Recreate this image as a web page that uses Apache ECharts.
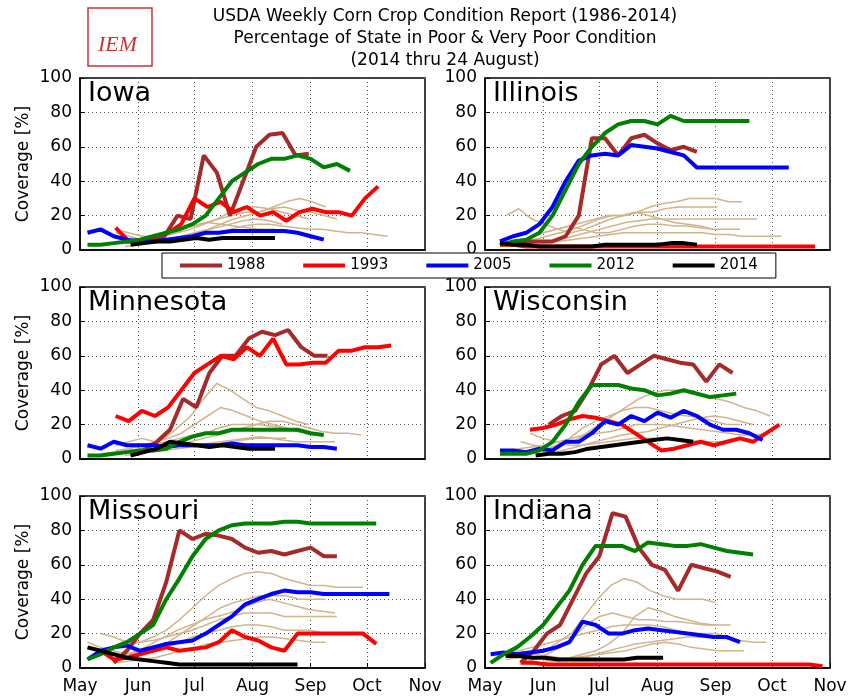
<!DOCTYPE html>
<html><head><meta charset="utf-8">
<script src="https://cdn.jsdelivr.net/npm/echarts@6/dist/echarts.min.js"></script>
<style>html,body{margin:0;padding:0;background:#fff}#c{width:855px;height:700px}</style>
</head><body><div id="c"></div>
<script>
// Highlight years
const years = ['1988','1993','2005','2012','2014'];
const colors = ['#a52a2a','#ff0000','#0000ff','#008000','#000000'];
const panels = ['Iowa','Illinois','Minnesota','Wisconsin','Missouri','Indiana'];
// start date (MM-DD) of each highlighted year's weekly values, per panel
const iowa_starts = ['05-25','05-20','05-05','05-05','05-28'];
const iowa_1988 = [5,5,6,8,20,18,55,45,20,40,60,67,68,55,56];
const iowa_1993 = [13,5,6,8,10,15,30,25,28,22,25,20,22,17,22,24,22,22,20,30,37];
const iowa_2005 = [10,12,8,6,5,5,6,7,8,10,10,11,11,11,11,11,10,8,6];
const iowa_2012 = [3,3,4,5,6,8,10,12,15,20,30,40,45,50,53,53,55,53,48,50,46];
const iowa_2014 = [3,4,5,5,6,7,6,7,7,7,7,7];

const illinois_starts = ['05-09','05-09','05-09','05-09','05-09'];
const illinois_1988 = [3,4,5,5,5,8,20,65,65,55,65,67,62,58,60,57];
const illinois_1993 = [3,3,2,2,2,2,2,2,2,2,2,2,2,2,2,2,2,2,2,2,2,2,2,2,2];
const illinois_2005 = [5,8,10,15,25,40,52,55,56,55,61,60,59,57,55,48,48,48,48,48,48,48,48];
const illinois_2012 = [3,5,6,10,20,35,50,60,68,73,75,75,73,78,75,75,75,75,75,75];
const illinois_2014 = [4,3,3,2,2,2,2,2,3,3,3,3,3,4,4,3];

const minnesota_starts = ['05-28','05-20','05-05','05-05','05-28'];
const minnesota_1988 = [3,5,10,17,35,30,50,60,60,70,74,72,75,65,60,60];
const minnesota_1993 = [25,22,28,25,30,40,50,55,60,58,65,60,70,55,55,56,56,63,63,65,65,66];
const minnesota_2005 = [8,6,10,8,8,8,7,8,8,8,8,9,8,8,8,8,8,7,7,6];
const minnesota_2012 = [2,2,3,4,5,5,6,10,13,15,15,17,17,17,17,17,17,15,14];
const minnesota_2014 = [2,4,6,10,9,8,7,8,7,6,6,6];

const wisconsin_starts = ['06-04','05-25','05-09','05-09','05-28'];
const wisconsin_1988 = [20,25,28,40,55,60,50,55,60,58,56,55,45,55,50];
const wisconsin_1993 = [17,18,20,23,25,24,22,20,15,10,5,6,8,10,8,10,12,10,15,20];
const wisconsin_2005 = [5,5,4,6,5,10,10,15,22,20,25,22,27,24,28,25,20,17,17,15,11];
const wisconsin_2012 = [3,3,3,5,10,20,33,43,43,43,41,40,37,38,40,38,36,37,38];
const wisconsin_2014 = [2,3,3,4,6,7,8,9,10,11,12,11,10];

const missouri_starts = ['05-19','05-12','05-05','05-05','05-05'];
const missouri_1988 = [3,10,20,28,50,80,75,78,77,75,70,67,68,66,68,70,65,65];
const missouri_1993 = [10,5,6,8,10,12,10,11,12,15,22,18,16,12,10,20,20,20,20,20,20,14];
const missouri_2005 = [5,10,12,13,10,12,14,15,16,20,25,30,37,40,43,45,44,44,43,43,43,43,43,43];
const missouri_2012 = [5,8,12,15,20,25,40,52,65,75,80,83,84,84,84,85,85,84,84,84,84,84,84];
const missouri_2014 = [12,10,8,6,5,4,3,2,2,2,2,2,2,2,2,2,2];

const indiana_starts = ['05-20','05-20','05-04','05-04','05-12'];
const indiana_1988 = [3,10,20,25,40,55,65,90,88,70,60,57,45,60,58,56,53];
const indiana_1993 = [3,3,2,2,2,2,2,2,2,2,2,2,2,2,2,2,2,2,2,2,2,2,2,1];
const indiana_2005 = [8,9,8,9,10,12,15,27,25,20,20,22,23,22,21,20,19,18,18,15];
const indiana_2012 = [3,8,12,18,25,35,45,60,71,71,71,68,73,72,71,71,72,70,68,67,66];
const indiana_2014 = [7,7,6,6,5,5,5,5,5,5,6,6,6];

// other years (background): first item is start date
const iowa_other = [
 ['05-20',10,8,6,5,6,8,10,12,15,18,20,22,25,28,30,28,25],
 ['05-25',5,5,6,8,10,12,15,18,22,25,25,24,22,20,18],
 ['05-12',3,4,5,6,8,10,12,14,16,18,20,22,22,24,25,23,22,20,18],
 ['05-20',12,10,8,8,10,12,14,16,15,14,13,12,12,11,10],
 ['05-25',2,3,4,5,7,9,11,13,15,17,18,17,15],
 ['06-01',4,5,6,7,8,9,10,12,14,15,15,14,13,12,12,11,10,10,9,8]];
const illinois_other = [
 ['05-12',20,24,18,15,12,10,12,15,18,20,22,25,27,28,30,30,30,28,28],
 ['05-20',5,6,8,10,12,15,18,20,20,22,22,24,25,25,25,25],
 ['05-20',3,4,5,6,8,10,12,14,16,17,18,18,18,18,18,18,18,18,18],
 ['05-25',8,10,12,14,12,10,10,12,14,15,15,14,14,13,12],
 ['05-12',2,3,3,4,5,6,7,8,9,10,10,10,10,10,10,10,9,9,8,8,8,8],
 ['06-01',10,12,14,16,18,20,20,22,20,18,16,15,14,12,12,12]];
const minnesota_other = [
 ['05-25',3,5,8,12,18,25,35,44,40,35,30,28,25,22,20],
 ['05-20',5,6,8,10,12,15,20,25,30,28,25,22,20,18,16,15],
 ['05-12',3,4,5,6,8,10,12,14,15,18,20,20,20,19,18,16,15,14],
 ['06-01',5,6,7,8,10,12,14,16,18,20,22,22,20,18,16,15,15,14],
 ['05-25',2,3,4,5,6,7,8,9,10,11,12,12,11,10,10,10,10],
 ['05-20',8,10,12,10,9,8,8,9,10,11,12,13,12,12]];
const wisconsin_other = [
 ['05-20',10,8,6,8,10,15,20,25,30,35,38,40,40,38,36,35,33,30,28,25],
 ['05-25',3,5,8,12,18,22,25,28,30,30,28,26,25,24,22,20,20],
 ['05-12',5,6,7,8,10,12,14,15,16,18,20,20,20,19,18,17,16,15,14,14,15],
 ['06-01',2,4,6,8,10,12,14,15,16,18,20,22,24,25,24,22,20],
 ['05-25',15,12,10,8,8,9,10,11,12,12,12,12,11,10,10,10]];
const missouri_other = [
 ['05-12',20,18,15,15,18,22,28,35,42,48,52,55,56,55,52,50,48,48,47,47,47],
 ['05-20',5,8,10,12,15,20,25,30,35,38,40,42,42,42,40,40,40],
 ['05-12',10,12,14,15,16,18,20,22,25,28,30,32,32,32,30,30,30,30,30],
 ['05-05',15,12,10,8,8,10,12,15,18,20,22,24,25,25,24,22,22,22,20,20,20],
 ['05-20',3,4,5,6,8,10,12,14,15,16,17,18,18,17,16,15,15],
 ['05-25',8,10,14,18,22,25,28,30,32,35,38,40,38,36,34,33,32]];
const indiana_other = [
 ['05-12',5,6,8,10,15,20,30,40,48,52,50,45,42,40,40,40,38],
 ['05-20',3,5,8,12,18,25,30,32,30,28,28,27,27,26,25,25,25],
 ['05-12',8,10,12,14,16,18,20,22,24,25,25,25,24,22,20,20,20,18],
 ['05-25',2,3,4,5,6,8,10,12,14,15,16,17,18,18,18,17,16,15,15],
 ['05-20',10,8,7,6,6,7,8,9,10,12,14,15,14,12,11,10,10,10],
 ['06-01',4,5,6,8,10,14,20,30,35,33,30,28,26,25]];

const panelData = [
 [iowa_starts,[iowa_1988,iowa_1993,iowa_2005,iowa_2012,iowa_2014],iowa_other],
 [illinois_starts,[illinois_1988,illinois_1993,illinois_2005,illinois_2012,illinois_2014],illinois_other],
 [minnesota_starts,[minnesota_1988,minnesota_1993,minnesota_2005,minnesota_2012,minnesota_2014],minnesota_other],
 [wisconsin_starts,[wisconsin_1988,wisconsin_1993,wisconsin_2005,wisconsin_2012,wisconsin_2014],wisconsin_other],
 [missouri_starts,[missouri_1988,missouri_1993,missouri_2005,missouri_2012,missouri_2014],missouri_other],
 [indiana_starts,[indiana_1988,indiana_1993,indiana_2005,indiana_2012,indiana_2014],indiana_other]];

function weekly(start, vals){
  const [m,d] = start.split('-').map(Number);
  return vals.map((v,i)=>[new Date(2014,m-1,d+7*i).getTime(), v]);
}
const FONT = 'DejaVu Sans';
const lefts=[80,485], tops=[78,287,496];
const grids=[],xAxes=[],yAxes=[],series=[],graphics=[];
panels.forEach((name,p)=>{
  const col=p%2,row=Math.floor(p/2);
  grids.push({left:lefts[col],top:tops[row],width:345,height:172,show:true,borderColor:'#000',borderWidth:1.5,backgroundColor:'transparent'});
  xAxes.push({type:'time',gridIndex:p,min:new Date(2014,4,1).getTime(),max:new Date(2014,10,1).getTime(),
    interval:30*864e5,minInterval:28*864e5,
    axisLine:{lineStyle:{color:'#000',width:1.5}},axisTick:{show:row===2,inside:true,length:5,lineStyle:{color:'#000'}},
    axisLabel:{show:row===2,formatter:'{MMM}',fontSize:17,color:'#000',fontFamily:FONT,margin:10,hideOverlap:false,showMinLabel:true,showMaxLabel:true},
    splitLine:{show:true,lineStyle:{color:'#555',type:[1,3],width:1}}});
  yAxes.push({type:'value',gridIndex:p,min:0,max:100,interval:20,
    name:col===0?'Coverage [%]':'',nameLocation:'middle',nameGap:48,nameTextStyle:{fontSize:17,fontFamily:FONT,color:'#000'},
    axisLine:{show:true,lineStyle:{color:'#000',width:1.5}},axisTick:{show:true,inside:true,length:5,lineStyle:{color:'#000'}},
    axisLabel:{fontSize:17,color:'#000',fontFamily:FONT,margin:8},
    splitLine:{show:true,lineStyle:{color:'#555',type:[1,3],width:1}}});
  const [starts,vals,other]=panelData[p];
  other.forEach(o=>series.push({type:'line',xAxisIndex:p,yAxisIndex:p,data:weekly(o[0],o.slice(1)),
    showSymbol:false,silent:true,lineStyle:{color:'#d2b48c',width:1.5},itemStyle:{color:'#d2b48c'},z:1}));
  vals.forEach((v,k)=>series.push({type:'line',name:years[k],xAxisIndex:p,yAxisIndex:p,data:weekly(starts[k],v),
    showSymbol:false,lineStyle:{color:colors[k],width:4},itemStyle:{color:colors[k]},z:3+k}));
  graphics.push({type:'text',left:lefts[col]+8,top:tops[row]+2,style:{text:name,font:'27px '+FONT,fill:'#000'},z:10});
});
graphics.push({type:'rect',shape:{x:88,y:8,width:64,height:58},style:{fill:'#fff',stroke:'#cc3333',lineWidth:1.5}});
graphics.push({type:'text',x:98,y:34,style:{text:'IEM',font:'italic 22px Liberation Serif',fill:'#cc3333'}});
graphics.push({type:'text',x:445,y:6,style:{text:'USDA Weekly Corn Crop Condition Report (1986-2014)\nPercentage of State in Poor & Very Poor Condition\n(2014 thru 24 August)',
  font:'17px '+FONT,fill:'#000',align:'center',textAlign:'center',lineHeight:22}});
const chart=echarts.init(document.getElementById('c'));
chart.setOption({animation:false,backgroundColor:'#fff',grid:grids,xAxis:xAxes,yAxis:yAxes,series,graphic:graphics,
  legend:{data:years,left:162,top:253,width:590,itemGap:38,itemWidth:42,itemHeight:14,padding:[5,18],
    borderColor:'#000',borderWidth:1,backgroundColor:'#fff',textStyle:{fontSize:15,fontFamily:FONT,color:'#000'},
    icon:'path://M0,0H40V4H0Z'}});
</script></body></html>
